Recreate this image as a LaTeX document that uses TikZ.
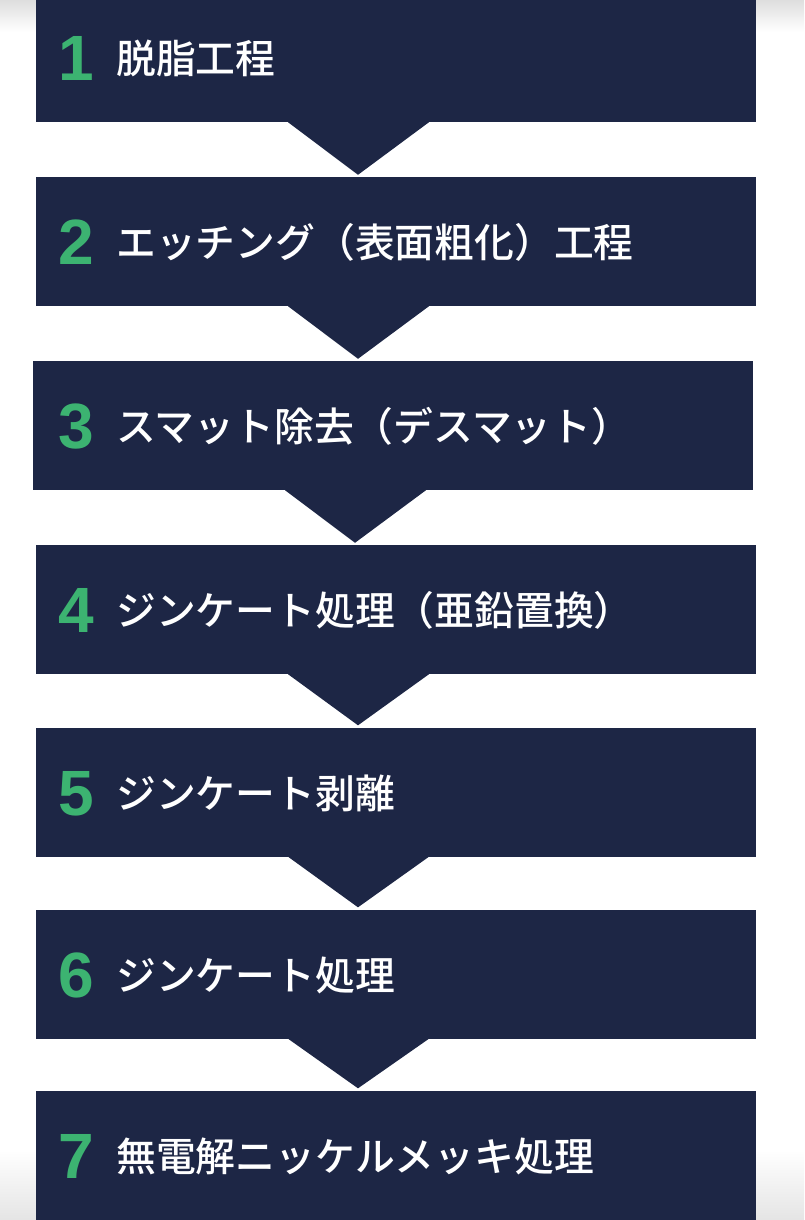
\documentclass[tikz,border=0pt]{standalone}
\usepackage{fontspec}
\usepackage{xcolor}
\newfontfamily\jpfont{Noto Sans CJK JP}[BoldFont={Noto Sans CJK JP Medium}]
\newfontfamily\numfont{Liberation Sans}
\definecolor{boxnavy}{RGB}{29, 38, 69}
\definecolor{numgreen}{RGB}{60, 179, 113}
\definecolor{edgegray}{RGB}{222, 222, 222}
\usetikzlibrary{calc}

\begin{document}
\begin{tikzpicture}[x=1pt, y=-1pt,
    stepbox/.style={fill=boxnavy, minimum width=720pt, minimum height=129pt, inner sep=0pt},
    stepnum/.style={anchor=base west, inner sep=0pt, text=numgreen, font=\numfont\bfseries\fontsize{64}{64}\selectfont},
    steptext/.style={anchor=base west, inner sep=0pt, text=white, font=\jpfont\bfseries\fontsize{39.8}{40}\selectfont}]
    \useasboundingbox (0,0) rectangle (804,1220);
    \clip (0,0) rectangle (804,1220);

    % Page edge shading
    \shade[top color=edgegray, bottom color=white] (0,0) rectangle (804,32);
    \shade[top color=white, bottom color=edgegray!80] (0,1150) rectangle (804,1220);

    % Columns for numbers and labels
    \coordinate (numcol) at (58,0);
    \coordinate (textcol) at (116,0);

    % Step boxes with number and label
    \foreach \i/\cx/\cy/\label in {1/396/57.5/脱脂工程, 2/396/241.5/エッチング（表面粗化）工程, 3/393/425.5/スマット除去（デスマット）, 4/396/609.5/ジンケート処理（亜鉛置換）, 5/396/792/ジンケート剥離, 6/396/974/ジンケート処理, 7/396/1155/無電解ニッケルメッキ処理} {
        \node[stepbox] (b\i) at (\cx,\cy) {};
        \node[stepnum] (n\i) at ($(b\i.center -| numcol)+(0,23)$) {\i};
        \node[steptext] (t\i) at ($(b\i.center -| textcol)+(0,16)$) {\label};
    }

    % Down triangles between steps
    \foreach \i/\j in {1/2, 2/3, 3/4, 4/5, 5/6, 6/7} {
        \fill[boxnavy] ($(b\i.south)+(-108,0)$) -- ($(b\i.south)+(33,0)$) -- ($(b\j.north -| b\i.south)+(-38,-2)$) -- cycle;
    }
\end{tikzpicture}
\end{document}
